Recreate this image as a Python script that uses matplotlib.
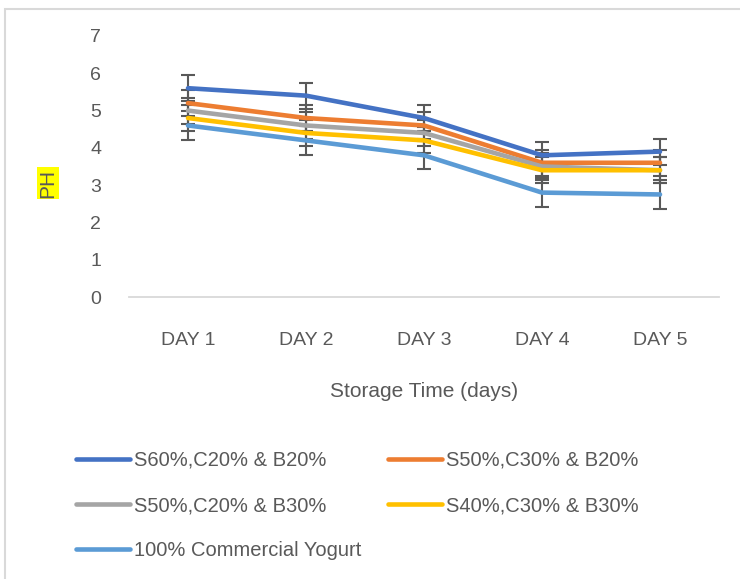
import matplotlib.pyplot as plt
from matplotlib.patches import Rectangle

days = ['DAY 1', 'DAY 2', 'DAY 3', 'DAY 4', 'DAY 5']
s60_c20_b20 = [5.6, 5.4, 4.8, 3.8, 3.9]
s50_c30_b20 = [5.2, 4.8, 4.6, 3.6, 3.6]
s50_c20_b30 = [5.0, 4.6, 4.4, 3.5, 3.4]
s40_c30_b30 = [4.8, 4.4, 4.2, 3.4, 3.4]
commercial = [4.6, 4.2, 3.8, 2.8, 2.75]
errors = [0.35, 0.35, 0.35, 0.35, 0.38]

labels = ['S60%,C20% & B20%', 'S50%,C30% & B20%', 'S50%,C20% & B30%',
          'S40%,C30% & B30%', '100% Commercial Yogurt']
colors = ['#4472C4', '#ED7D31', '#A5A5A5', '#FFC000', '#5B9BD5']
series = [s60_c20_b20, s50_c30_b20, s50_c20_b30, s40_c30_b30, commercial]

plt.rcParams['font.family'] = ['Liberation Sans', 'DejaVu Sans']
text_color = '#595959'

fig = plt.figure(figsize=(7.4, 5.79), dpi=100)
fig.patches.append(Rectangle((5 / 740, -0.1), 1.2, (579 - 9) / 579 + 0.1,
                             transform=fig.transFigure, fill=False,
                             edgecolor='#D9D9D9', linewidth=1.5))
ax = fig.add_axes([129 / 740, 1 - 297 / 579, (719 - 129) / 740, (297 - 36) / 579])

x = list(range(len(days)))
handles = []
for vals, err, col, lab in zip(series, errors, colors, labels):
    ax.errorbar(x, vals, yerr=err, fmt='none', ecolor='#595959',
                elinewidth=1.5, capsize=5, capthick=1.5, zorder=2)
    h, = ax.plot(x, vals, color=col, linewidth=3.3, label=lab,
                 solid_capstyle='round', zorder=3)
    handles.append(h)

ax.set_xlim(-0.5, len(days) - 0.5)
ax.set_ylim(0, 7)
ax.set_xticks(x)
ax.set_xticklabels(days)
ax.set_yticks(range(0, 8))
ax.tick_params(length=0, labelsize=14, colors=text_color)
ax.tick_params(axis='x', pad=25)
ax.tick_params(axis='y', pad=20)
for side in ['top', 'right', 'left']:
    ax.spines[side].set_visible(False)
ax.spines['bottom'].set_color('#D9D9D9')
ax.spines['bottom'].set_linewidth(1.3)

ax.set_xlabel('Storage Time (days)', fontsize=15, color=text_color, labelpad=24)
fig.text(48 / 740, 1 - 183 / 579, 'PH', rotation=90, fontsize=15,
         color=text_color, ha='center', va='center',
         bbox=dict(facecolor='#FFFF00', edgecolor='none', pad=1))

# row-major order like the Excel legend
order = [0, 2, 4, 1, 3]
fig.legend(handles=[handles[i] for i in order], loc='upper left',
           bbox_to_anchor=(76 / 740, 1 - 451 / 579),
           ncol=2, frameon=False, fontsize=14.5, handlelength=2.7,
           handletextpad=0.2, columnspacing=1.3, labelspacing=1.3,
           borderpad=0, borderaxespad=0, labelcolor=text_color)

fig.savefig('out.png', dpi=100)
